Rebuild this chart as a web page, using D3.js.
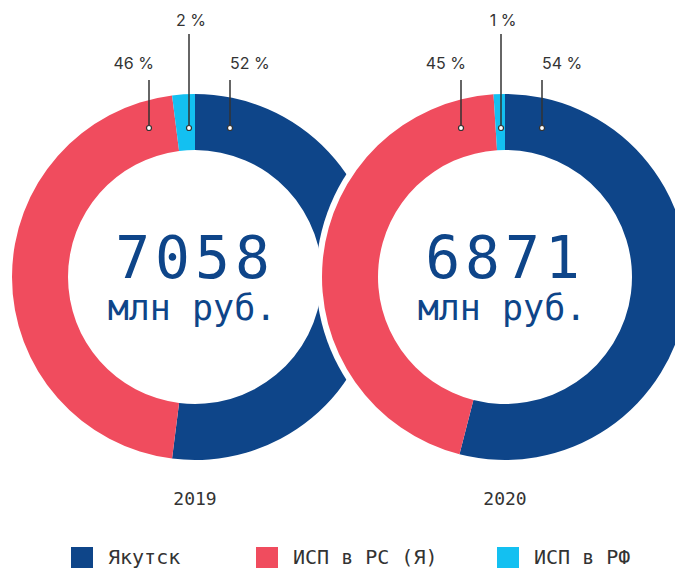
<!DOCTYPE html>
<html>
<head>
<meta charset="utf-8">
<script src="https://cdn.jsdelivr.net/npm/d3@7"></script>
<style>
  body { margin: 0; background: #fff; }
  text { font-family: "DejaVu Sans Mono", monospace; }
  text.pct { font-family: Inter, "Noto Sans", sans-serif; }
</style>
</head>
<body>
<script>
const width = 675, height = 568;
const svg = d3.select("body").append("svg").attr("width", width).attr("height", height);
const outerR = 183, innerR = 127, cy = 277;
const colors = { "Якутск": "#0e4589", "ИСП в РС (Я)": "#f04c5e", "ИСП в РФ": "#13c0f1" };
const keys = ["Якутск", "ИСП в РС (Я)", "ИСП в РФ"];

// share of budget, percent; lx = label line offset from centre
const years = [
  { year: "2019", total: 7058, cx: 195,
    parts: [{ k: "Якутск", v: 52, lx: 35 }, { k: "ИСП в РС (Я)", v: 46, lx: -46 }, { k: "ИСП в РФ", v: 2, lx: -6 }] },
  { year: "2020", total: 6871, cx: 505,
    parts: [{ k: "Якутск", v: 54, lx: 37 }, { k: "ИСП в РС (Я)", v: 45, lx: -44 }, { k: "ИСП в РФ", v: 1, lx: -4 }] }
];

const pie = d3.pie().sort(null).value(d => d.v);
const arc = d3.arc().innerRadius(innerR).outerRadius(outerR);

years.forEach((y, i) => {
  const g = svg.append("g").attr("transform", `translate(${y.cx},${cy})`);
  if (i > 0) g.append("circle").attr("r", outerR + 6).attr("fill", "#fff");
  g.selectAll("path").data(pie(y.parts)).join("path")
    .attr("d", arc).attr("fill", d => colors[d.data.k]);

  g.append("text").attr("x", 0).attr("y", 1).attr("text-anchor", "middle")
    .attr("font-size", "58px").attr("letter-spacing", "5px").attr("fill", "#0e4589")
    .text(y.total);
  g.append("text").attr("x", -3).attr("y", 43).attr("text-anchor", "middle")
    .attr("font-size", "35px").attr("fill", "#0e4589")
    .text("млн руб.");

  const ann = g.append("g");
  y.parts.forEach(p => {
    const small = p.v < 5;
    const top = small ? -243 : -197;
    ann.append("line").attr("x1", p.lx).attr("x2", p.lx).attr("y1", -149).attr("y2", top)
      .attr("stroke", "#333").attr("stroke-width", 1.5);
    ann.append("circle").attr("cx", p.lx).attr("cy", -149).attr("r", 2.5)
      .attr("fill", "#fff").attr("stroke", "#333").attr("stroke-width", 1.2);
    const anchor = small ? "middle" : (p.lx < 0 ? "end" : "start");
    const tx = small ? p.lx + 2 : (p.lx < 0 ? p.lx + 5 : p.lx);
    ann.append("text").attr("class", "pct").attr("x", tx).attr("y", small ? -251 : -208)
      .attr("text-anchor", anchor).attr("font-size", "16px").attr("fill", "#333")
      .text(p.v + " %");
  });

  svg.append("text").attr("x", y.cx).attr("y", 505).attr("text-anchor", "middle")
    .attr("font-size", "18px").attr("fill", "#333").text(y.year);
});

const legend = svg.append("g");
const lx = [71, 256, 497];
keys.forEach((k, i) => {
  legend.append("rect").attr("x", lx[i]).attr("y", 547).attr("width", 22).attr("height", 22)
    .attr("fill", colors[k]);
  legend.append("text").attr("x", lx[i] + 37).attr("y", 564)
    .attr("font-size", "20px").attr("fill", "#333").text(k);
});
</script>
</body>
</html>
